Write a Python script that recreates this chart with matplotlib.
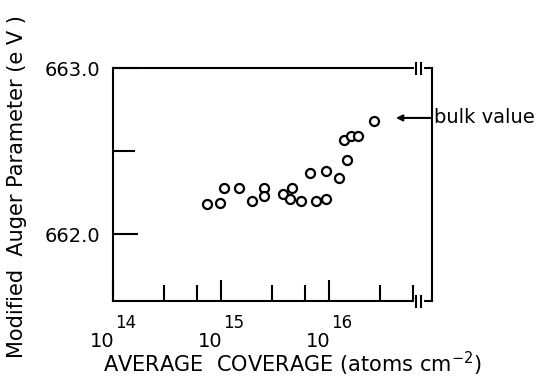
import numpy as np
import matplotlib
matplotlib.use("Agg")
import matplotlib.pyplot as plt
from matplotlib.ticker import FixedLocator, NullFormatter

# average coverage (atoms cm^-2) and modified Auger parameter (eV)
coverage = [7.4e14, 9.9e14, 1.08e15, 1.49e15, 1.95e15, 2.53e15, 2.53e15,
            3.79e15, 4.34e15, 4.53e15, 5.56e15, 6.64e15, 7.69e15, 9.46e15,
            9.53e15, 1.25e16, 1.39e16, 1.48e16, 1.62e16, 1.88e16, 2.62e16]
auger = [662.18, 662.19, 662.28, 662.28, 662.20, 662.28, 662.23,
         662.24, 662.21, 662.28, 662.20, 662.37, 662.20, 662.21,
         662.38, 662.34, 662.57, 662.45, 662.59, 662.59, 662.68]
bulk_value = 662.70
decades = [14, 15, 16]
ytick_vals = [662.0, 663.0]
ytick_labels = ["662.0", "663.0"]

plt.rcParams['font.family'] = 'DejaVu Sans'

fig = plt.figure(figsize=(5.41, 3.81), dpi=100)
ax = fig.add_axes([0.2085, 0.21, 0.5895, 0.6115])

ax.plot(coverage, auger, 'o', mfc='white', mec='black', ms=6.5, mew=1.6)

ax.set_xscale('log')
ax.set_xlim(1e14, 9.0e16)
ax.set_ylim(661.6, 663.0)

for s in ax.spines.values():
    s.set_linewidth(1.5)

# x ticks: decades long, 3x and 6x short, custom labels below
ax.xaxis.set_major_locator(FixedLocator([10.0**d for d in decades]))
minors = [m * 10.0**d for d in decades for m in (3, 6)]
ax.xaxis.set_minor_locator(FixedLocator(minors))
ax.xaxis.set_major_formatter(NullFormatter())
ax.xaxis.set_minor_formatter(NullFormatter())
ax.tick_params(axis='x', which='major', direction='in', length=15, width=1.5)
ax.tick_params(axis='x', which='minor', direction='in', length=11.5, width=1.5)
for d in decades:
    ax.annotate("10", xy=(10.0**d, 0), xycoords=('data', 'axes fraction'),
                xytext=(1, -33), textcoords='offset points',
                ha='right', va='baseline', fontsize=14)
    ax.annotate(str(d), xy=(10.0**d, 0), xycoords=('data', 'axes fraction'),
                xytext=(2, -19.5), textcoords='offset points',
                ha='left', va='baseline', fontsize=12)

# y ticks
ax.yaxis.set_major_locator(FixedLocator(ytick_vals))
ax.yaxis.set_minor_locator(FixedLocator([662.5]))
ax.set_yticklabels(ytick_labels, fontsize=14)
ax.yaxis.set_minor_formatter(NullFormatter())
ax.tick_params(axis='y', which='major', direction='in', length=18, width=1.5, pad=9)
ax.tick_params(axis='y', which='minor', direction='in', length=16, width=1.5)

ax.set_ylabel("Modified  Auger Parameter (e V )", fontsize=15)
ax.yaxis.set_label_coords(-0.27, 0.49)
ax.set_xlabel(r"AVERAGE  COVERAGE (atoms cm$^{-2}$)", fontsize=15, ha='left', va='baseline')
ax.xaxis.set_label_coords(-0.03, -0.305)

# bulk value arrow
ax.annotate("bulk value", xy=(4.2e16, bulk_value), xytext=(9.5e16, bulk_value),
            ha='left', va='center', fontsize=14, annotation_clip=False,
            arrowprops=dict(arrowstyle='-|>', color='black', lw=1.5,
                            shrinkA=0, shrinkB=0, mutation_scale=9,
                            relpos=(0, 0.5)))

# axis break marks near the right end
for yb in (0, 1):
    ax.plot([0.952, 0.968], [yb, yb], color='white', lw=3,
            transform=ax.transAxes, clip_on=False, zorder=5)
    for xb in (0.952, 0.966):
        ax.plot([xb, xb], [yb - 0.025, yb + 0.02], color='black', lw=1.5,
                transform=ax.transAxes, clip_on=False, zorder=6)

fig.savefig("out.png", dpi=100)
